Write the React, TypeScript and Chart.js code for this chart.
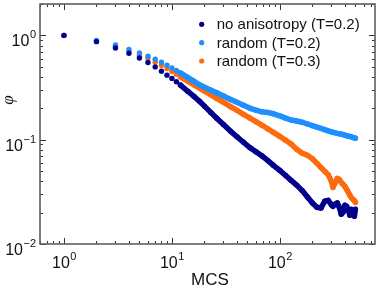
import React, { useEffect, useRef } from "react";
import { Chart, registerables } from "chart.js";

Chart.register(...registerables);

// Monte Carlo steps (x values)
const mcs = [
  1, 2, 3, 4, 5, 6, 7, 8, 9, 10, 11,
  12, 14, 16, 18, 20, 23, 26, 30, 35, 40, 46, 53, 60, 68, 77, 87, 100,
  113, 127, 143, 160, 180, 200, 220, 240, 260, 280, 300, 310, 320, 340,
  355, 370, 385, 400, 415, 430, 445, 460, 475, 490, 500,
];

// φ, no anisotropy (T=0.2)
const noAnisotropyT02 = [
  1.0, 0.871, 0.757, 0.674, 0.608, 0.55, 0.499, 0.454, 0.416, 0.387, 0.359,
  0.334, 0.2916, 0.2597, 0.2337, 0.2099, 0.1816, 0.1606, 0.1398, 0.1202, 0.1068,
  0.0945, 0.0837, 0.0767, 0.0701, 0.0634, 0.0568, 0.0507,
  0.0453, 0.0407, 0.0367, 0.0327, 0.0282, 0.0247, 0.0225, 0.0221, 0.0257, 0.0262,
  0.0238, 0.023, 0.024, 0.0248,
  0.0225, 0.0193, 0.0202, 0.0235, 0.023, 0.0211, 0.0189, 0.0215, 0.0206, 0.0185, 0.0215,
];

// φ, random (T=0.2)
const randomT02 = [
  1.0, 0.896, 0.809, 0.735, 0.678, 0.631, 0.591, 0.553, 0.518, 0.488, 0.461,
  0.4375, 0.3955, 0.3631, 0.3362, 0.319, 0.2987, 0.2822, 0.263, 0.243, 0.2281,
  0.2136, 0.2, 0.1918, 0.1852, 0.1827, 0.1772, 0.1693,
  0.161, 0.1544, 0.151, 0.1471, 0.1414, 0.1363, 0.1318, 0.1281, 0.1248, 0.1216,
  0.1189, 0.1178, 0.1168, 0.1151,
  0.1141, 0.113, 0.112, 0.1104, 0.109, 0.1082, 0.1076, 0.1061, 0.105, 0.1046, 0.1035,
];

// φ, random (T=0.3)
const randomT03 = [
  1.0, 0.885, 0.786, 0.708, 0.645, 0.6, 0.553, 0.515, 0.482, 0.451, 0.425,
  0.4008, 0.3647, 0.3362, 0.3121, 0.2929, 0.2689, 0.2489, 0.2281, 0.2071, 0.1918,
  0.1749, 0.1606, 0.1487, 0.1377, 0.1273, 0.1176, 0.1075,
  0.0989, 0.0908, 0.0809, 0.0744, 0.0709, 0.0656, 0.0595, 0.0541, 0.0499, 0.0462,
  0.0398, 0.0349, 0.0373, 0.0425,
  0.0416, 0.039, 0.0373, 0.0357, 0.0334, 0.0313, 0.0293, 0.0277, 0.0268, 0.026, 0.0251,
];

const seriesLabels = ["no anisotropy (T=0.2)", "random (T=0.2)", "random (T=0.3)"];
const seriesColors = ["#00008c", "#1e8fff", "#ff6a0d"];

const xMajorTicks = [1, 10, 100];
const xTickExponents = ["0", "1", "2"];
const yMajorTicks = [0.01, 0.1, 1];
const yTickExponents = ["\u22122", "\u22121", "0"];

const xTitle = "MCS";
const yTitle = "\u03C6";

const X_MIN = 0.6;
const X_MAX = 760;
const Y_MIN = 0.01;
const Y_MAX = 2;
const DENSE_FROM = 12;

const SANS = '"Liberation Sans", Arial, Helvetica, sans-serif';

function minorValues(min: number, max: number): { v: number; major: boolean }[] {
  const out: { v: number; major: boolean }[] = [];
  for (let k = -3; k <= 3; k++) {
    for (let m = 1; m <= 9; m++) {
      const v = m * Math.pow(10, k);
      if (v >= min * 0.999 && v <= max * 1.001) out.push({ v, major: m === 1 });
    }
  }
  return out;
}

const decorPlugin = {
  id: "decor",
  afterDraw(chart: any) {
    const { ctx, chartArea: a, scales } = chart;
    const xs = scales.x;
    const ys = scales.y;
    ctx.save();

    // ticks (inward, all four sides)
    ctx.strokeStyle = "#333";
    ctx.lineWidth = 1;
    ctx.beginPath();
    for (const { v, major } of minorValues(X_MIN, X_MAX)) {
      const px = Math.round(xs.getPixelForValue(v)) + 0.5;
      const len = major ? 6 : 3;
      ctx.moveTo(px, a.bottom);
      ctx.lineTo(px, a.bottom - len);
      ctx.moveTo(px, a.top);
      ctx.lineTo(px, a.top + len);
    }
    for (const { v, major } of minorValues(Y_MIN, Y_MAX)) {
      const py = Math.round(ys.getPixelForValue(v)) + 0.5;
      const len = major ? 6 : 3;
      ctx.moveTo(a.left, py);
      ctx.lineTo(a.left + len, py);
      ctx.moveTo(a.right, py);
      ctx.lineTo(a.right - len, py);
    }
    ctx.stroke();

    // frame
    ctx.strokeStyle = "#5e5e5e";
    ctx.lineWidth = 1.6;
    ctx.strokeRect(a.left, a.top, a.right - a.left, a.bottom - a.top);

    // tick labels
    ctx.fillStyle = "#111";
    ctx.textBaseline = "alphabetic";
    const baseFont = `16px ${SANS}`;
    const expFont = `11px ${SANS}`;
    xMajorTicks.forEach((v, i) => {
      const px = xs.getPixelForValue(v);
      ctx.font = baseFont;
      const wb = ctx.measureText("10").width;
      ctx.font = expFont;
      const we = ctx.measureText(xTickExponents[i]).width;
      const start = px - (wb + we) / 2;
      ctx.font = baseFont;
      ctx.textAlign = "left";
      ctx.fillText("10", start, a.bottom + 24);
      ctx.font = expFont;
      ctx.fillText(xTickExponents[i], start + wb + 0.5, a.bottom + 16);
    });
    yMajorTicks.forEach((v, i) => {
      const py = ys.getPixelForValue(v);
      ctx.font = expFont;
      const we = ctx.measureText(yTickExponents[i]).width;
      const right = a.left - 4;
      ctx.textAlign = "left";
      ctx.fillText(yTickExponents[i], right - we, py + 3);
      ctx.font = baseFont;
      ctx.textAlign = "right";
      ctx.fillText("10", right - we - 0.5, py + 11);
    });

    // axis titles
    ctx.font = `17px ${SANS}`;
    ctx.textAlign = "center";
    ctx.fillText(xTitle, 210, a.bottom + 41);

    ctx.save();
    ctx.translate(13, 100);
    ctx.rotate(-Math.PI / 2);
    ctx.font = `italic 17px "Liberation Serif", "DejaVu Serif", serif`;
    ctx.textAlign = "center";
    ctx.fillText(yTitle, 0, 0);
    ctx.restore();

    // legend (inside, top right)
    const lx = 201.7;
    const tx = 216.7;
    const rows = [24.3, 42.7, 61];
    chart.data.datasets.forEach((ds: any, i: number) => {
      ctx.fillStyle = seriesColors[i];
      ctx.beginPath();
      ctx.arc(lx, rows[i], 2.6, 0, Math.PI * 2);
      ctx.fill();
      ctx.fillStyle = "#111";
      ctx.font = `15px ${SANS}`;
      ctx.textAlign = "left";
      ctx.fillText(ds.label, tx, rows[i] + 5);
    });

    ctx.restore();
  },
};

export default function App() {
  const ref = useRef<HTMLCanvasElement | null>(null);

  useEffect(() => {
    document.body.style.margin = "0";
    const canvas = ref.current;
    if (!canvas) return;
    const seriesValues = [noAnisotropyT02, randomT02, randomT03];
    const chart = new Chart(canvas, {
      type: "scatter",
      data: {
        datasets: seriesValues.map((vals, i) => ({
          label: seriesLabels[i],
          data: mcs.map((t, j) => ({ x: t, y: vals[j] })),
          showLine: true,
          borderColor: seriesColors[i],
          backgroundColor: seriesColors[i],
          pointBackgroundColor: seriesColors[i],
          pointBorderWidth: 0,
          pointRadius: 2.7,
          pointHoverRadius: 2.7,
          borderWidth: 5.5,
          borderCapStyle: "round",
          borderJoinStyle: "round",
          tension: 0,
          segment: {
            borderColor: (c: any) =>
              c.p0.parsed.x < DENSE_FROM ? "rgba(0,0,0,0)" : seriesColors[i],
          },
        })),
      },
      options: {
        responsive: false,
        animation: false,
        devicePixelRatio: 1,
        layout: { padding: { left: 40, right: 7, top: 4, bottom: 48 } },
        plugins: {
          legend: { display: false },
          tooltip: { enabled: false },
        },
        scales: {
          x: { type: "logarithmic", min: X_MIN, max: X_MAX, display: false },
          y: { type: "logarithmic", min: Y_MIN, max: Y_MAX, display: false },
        },
      },
      plugins: [decorPlugin],
    } as any);
    return () => chart.destroy();
  }, []);

  return (
    <div style={{ width: 382, height: 292, background: "#fff" }}>
      <canvas ref={ref} width={382} height={292} style={{ display: "block" }} />
    </div>
  );
}
